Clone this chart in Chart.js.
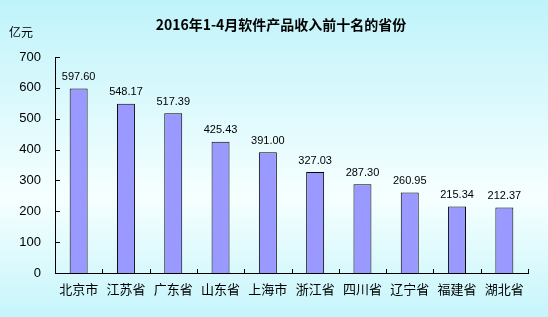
<!DOCTYPE html>
<html lang="zh">
<head>
    <meta charset="UTF-8">
    <title>软件产品收入</title>
    <script src="https://cdn.jsdelivr.net/npm/chart.js"></script>
    <style>
        html, body { margin: 0; padding: 0; }
        #wrap { width: 548px; height: 317px; }
    </style>
</head>
<body>
<div id="wrap"><canvas id="incomeChart" width="548" height="317"></canvas></div>
<script>
    const provinces = ['北京市', '江苏省', '广东省', '山东省', '上海市', '浙江省', '四川省', '辽宁省', '福建省', '湖北省'];
    const income = [597.60, 548.17, 517.39, 425.43, 391.00, 327.03, 287.30, 260.95, 215.34, 212.37];
    const yTicks = [0, 100, 200, 300, 400, 500, 600, 700];
    const chartTitle = '2016年1-4月软件产品收入前十名的省份';
    const unitLabel = '亿元';

    const cjk = '"Noto Sans CJK SC", "Liberation Sans", sans-serif';
    const num = '"Liberation Sans", Arial, sans-serif';

    // 背景渐变 + 标题
    const bgPlugin = {
        id: 'bg',
        beforeDraw(chart) {
            const ctx = chart.ctx;
            const g = ctx.createLinearGradient(0, 0, 0, chart.height);
            g.addColorStop(0, '#bff3fa');
            g.addColorStop(0.62, '#f6ffff');
            g.addColorStop(1, '#c6f5fb');
            ctx.save();
            ctx.fillStyle = g;
            ctx.fillRect(0, 0, chart.width, chart.height);
            ctx.fillStyle = '#000';
            ctx.font = 'bold 14px ' + cjk;
            ctx.textAlign = 'center';
            ctx.textBaseline = 'middle';
            ctx.fillText(chartTitle, 281, 25);
            ctx.font = '12px ' + cjk;
            ctx.textAlign = 'left';
            ctx.fillText(unitLabel, 9, 32);
            ctx.restore();
        }
    };

    // 刻度线(朝内) + 数据标签
    const tickPlugin = {
        id: 'innerTicks',
        afterDatasetsDraw(chart) {
            const ctx = chart.ctx;
            const x = chart.scales.x, y = chart.scales.y;
            const a = chart.chartArea;
            ctx.save();
            ctx.strokeStyle = '#000';
            ctx.lineWidth = 1;
            ctx.beginPath();
            yTicks.forEach(v => {
                const py = Math.round(y.getPixelForValue(v)) + 0.5;
                ctx.moveTo(a.left, py);
                ctx.lineTo(a.left + 5, py);
            });
            for (let i = 0; i <= provinces.length; i++) {
                const px = Math.round(x.getPixelForValue(i - 0.5)) + 0.5;
                ctx.moveTo(px, a.bottom);
                ctx.lineTo(px, a.bottom - 4);
            }
            ctx.stroke();

            ctx.fillStyle = '#000';
            ctx.font = '11px ' + num;
            ctx.textAlign = 'center';
            ctx.textBaseline = 'bottom';
            chart.getDatasetMeta(0).data.forEach((bar, i) => {
                ctx.fillText(income[i].toFixed(2), bar.x, bar.y - 6);
            });
            ctx.restore();
        }
    };

    new Chart(document.getElementById('incomeChart'), {
        type: 'bar',
        data: {
            labels: provinces,
            datasets: [{
                data: income,
                backgroundColor: '#9999ff',
                borderColor: '#000',
                borderWidth: 1,
                borderSkipped: 'bottom',
                barPercentage: 0.76,
                categoryPercentage: 0.5
            }]
        },
        options: {
            responsive: false,
            animation: false,
            layout: { padding: { top: 57, right: 20, left: 0, bottom: 0 } },
            plugins: {
                legend: { display: false },
                tooltip: { enabled: false }
            },
            scales: {
                x: {
                    grid: { display: false, drawTicks: false },
                    border: { display: true, color: '#000', width: 1 },
                    ticks: { color: '#000', font: { size: 13, family: cjk }, padding: 8, maxRotation: 0 },
                    afterFit(s) { s.height = 44; }
                },
                y: {
                    min: 0,
                    max: 700,
                    afterBuildTicks(s) { s.ticks = yTicks.map(v => ({ value: v })); },
                    grid: { display: false, drawTicks: false },
                    border: { display: true, color: '#000', width: 1 },
                    ticks: { color: '#000', font: { size: 13, family: num }, padding: 14 },
                    afterFit(s) { s.width = 55; }
                }
            }
        },
        plugins: [bgPlugin, tickPlugin]
    });
</script>
</body>
</html>
